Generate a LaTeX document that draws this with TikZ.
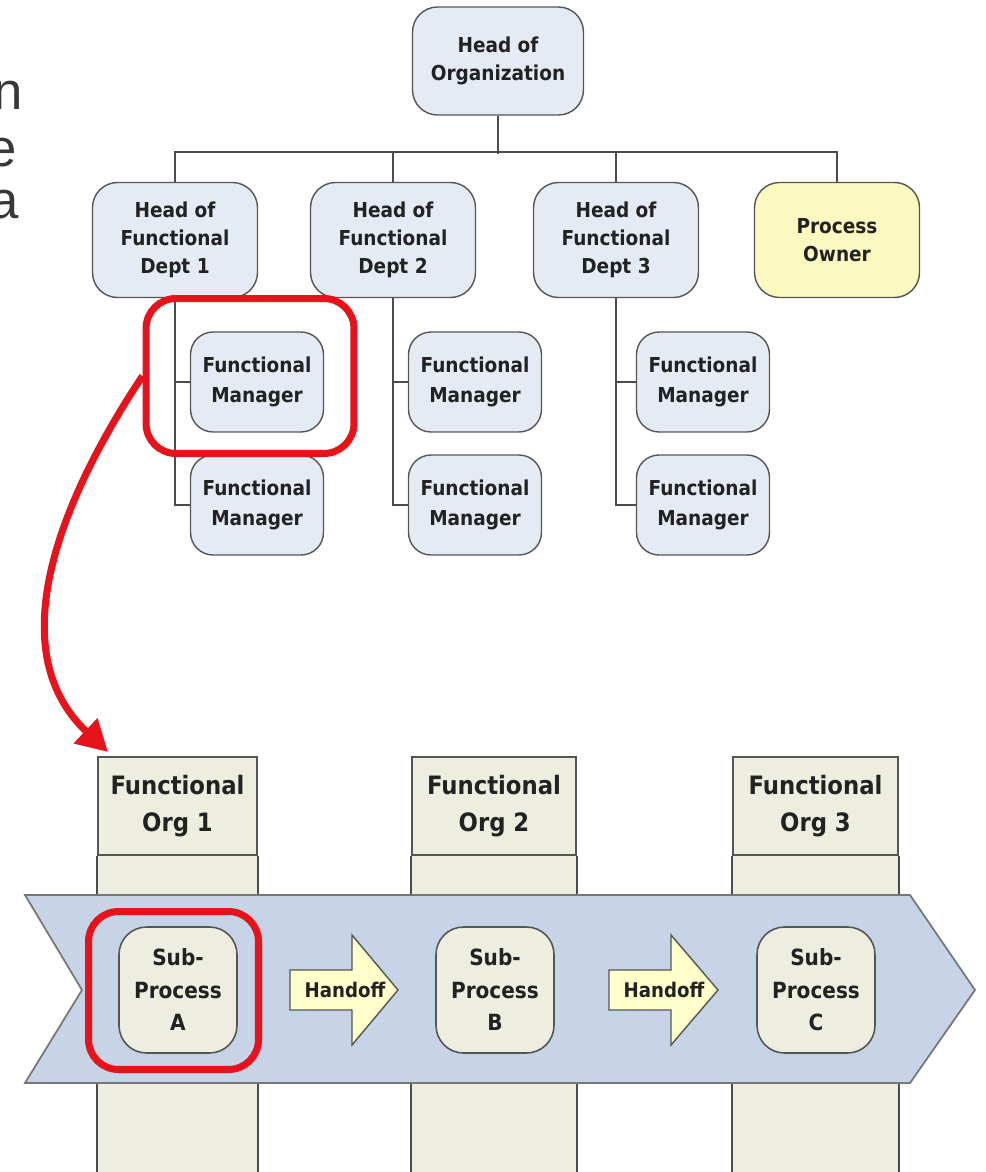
\documentclass[tikz,border=0pt]{standalone}
\usepackage{fontspec}
\usetikzlibrary{arrows.meta}
\newfontfamily\tah{DejaVu Sans Condensed}
\newfontfamily\lib{Liberation Sans}

\definecolor{boxblue}{HTML}{E5EBF5}
\definecolor{ownery}{HTML}{FBF8C0}
\definecolor{beige}{HTML}{EDEEE0}
\definecolor{bandblue}{HTML}{C7D3E6}
\definecolor{handy}{HTML}{FFFFCC}
\definecolor{hired}{HTML}{E8121A}
\definecolor{edge}{HTML}{555555}
\definecolor{ink}{HTML}{222222}

\begin{document}
\begin{tikzpicture}[x=0.02cm,y=-0.02cm,
  every node/.style={align=center, text=ink},
  orgbox/.style={draw=edge, line width=0.8pt, fill=boxblue, rounded corners=0.5cm,
    minimum width=3.3cm, minimum height=2.3cm, inner sep=0pt,
    font=\tah\bfseries\fontsize{11.7}{16}\selectfont},
  mgr/.style={orgbox, minimum width=2.66cm, minimum height=2.0cm, rounded corners=0.45cm,
    font=\tah\bfseries\fontsize{11.7}{17}\selectfont},
  conn/.style={draw=edge!90!black, line width=1.1pt},
  hilite/.style={draw=hired, line width=4pt, rounded corners=0.6cm, inner sep=0pt},
  orghead/.style={draw=edge, line width=0.9pt, fill=beige, minimum height=1.96cm, inner sep=0pt,
    font=\tah\bfseries\fontsize{14.4}{21}\selectfont},
  band/.style={draw=edge!80, line width=1pt, fill=bandblue},
  sub/.style={draw=edge, line width=0.9pt, fill=beige, rounded corners=0.55cm,
    minimum width=2.36cm, minimum height=2.52cm, inner sep=0pt,
    font=\tah\bfseries\fontsize{12.7}{18.5}\selectfont},
  handoff/.style={draw=edge, line width=0.8pt, fill=handy},
  hotext/.style={inner sep=0pt, font=\tah\bfseries\fontsize{11.5}{14}\selectfont},
  edgeletter/.style={anchor=base east, inner sep=0pt, text=ink!90, font=\lib\fontsize{30}{36}\selectfont}
]
\useasboundingbox (0,0) rectangle (986,1172);
\coordinate (bot) at (0,1172);

% letters running in from the left edge
\begin{scope}
  \clip (0,0) rectangle (986,1172);
  \node[edgeletter] (l1) at (23,110) {n};
  \node[edgeletter] (l2) at (17,167) {e};
  \node[edgeletter] (l3) at (19,219) {a};
\end{scope}

% ---------- organisation chart ----------
\node[orgbox, minimum width=3.42cm, minimum height=2.16cm] (head) at (498,61) {Head of\\Organization};
\node[orgbox] (d1) at (175,240) {Head of\\Functional\\Dept 1};
\node[orgbox] (d2) at (393,240) {Head of\\Functional\\Dept 2};
\node[orgbox] (d3) at (616,240) {Head of\\Functional\\Dept 3};
\node[orgbox, fill=ownery] (po) at (837,240) {Process\\Owner};

\draw[conn] (head.south) -- ++(0,38);
\draw[conn] (d1.north) -- ++(0,-30) -| (po.north);
\draw[conn] (d2.north) -- ++(0,-30);
\draw[conn] (d3.north) -- ++(0,-30);

\node[mgr] (m11) at (257,382) {Functional\\Manager};
\node[mgr] (m12) at (257,505) {Functional\\Manager};
\node[mgr] (m21) at (475,382) {Functional\\Manager};
\node[mgr] (m22) at (475,505) {Functional\\Manager};
\node[mgr] (m31) at (703,382) {Functional\\Manager};
\node[mgr] (m32) at (703,505) {Functional\\Manager};

\foreach \d/\a/\b in {d1/m11/m12, d2/m21/m22, d3/m31/m32} {
  \draw[conn] (\d.south) |- (\b.west);
  \draw[conn] (\d.south |- \a.west) -- (\a.west);
}

% highlight on the first manager and the arrow down to the process view
\node[hilite, minimum width=4.16cm, minimum height=3.1cm] (hl1) at (250,376) {};
\coordinate (tipA) at (108,752);
\draw[hired, line width=4pt, -{Triangle[length=0.62cm,width=0.66cm]}]
  (hl1.west) .. controls (60,500) and (0,650) .. (tipA);

% ---------- functional organisations ----------
\node[orghead, minimum width=3.18cm] (o1) at (177.5,806) {Functional\\Org 1};
\node[orghead, minimum width=3.28cm] (o2) at (494,806) {Functional\\Org 2};
\node[orghead, minimum width=3.30cm] (o3) at (815.5,806) {Functional\\Org 3};
\foreach \o in {o1,o2,o3} {
  \fill[beige] (\o.south west) rectangle (\o.south east |- bot);
  \draw[conn, line width=0.9pt] (\o.south west) -- (\o.south west |- bot);
  \draw[conn, line width=0.9pt] (\o.south east) -- (\o.south east |- bot);
}

% process band
\draw[band] (25,895) -- (910,895) -- (975,990) -- (910,1083) -- (25,1083) -- (82,990) -- cycle;

\node[sub] (sa) at (178,990) {Sub-\\Process\\A};
\node[sub] (sb) at (495,990) {Sub-\\Process\\B};
\node[sub] (sc) at (816,990) {Sub-\\Process\\C};

% handoff arrows
\draw[handoff] (290,970) -- ++(62,0) -- ++(0,-35) -- ++(46,55) -- ++(-46,55) -- ++(0,-35) -- ++(-62,0) -- cycle;
\node[hotext] (h1) at (345,990) {Handoff};
\draw[handoff] (609,970) -- ++(62,0) -- ++(0,-35) -- ++(47,55) -- ++(-47,55) -- ++(0,-35) -- ++(-62,0) -- cycle;
\node[hotext] (h2) at (664,990) {Handoff};

\node[hilite, minimum width=3.4cm, minimum height=3.16cm] (hlA) at (173.5,990.5) {};
\end{tikzpicture}
\end{document}
